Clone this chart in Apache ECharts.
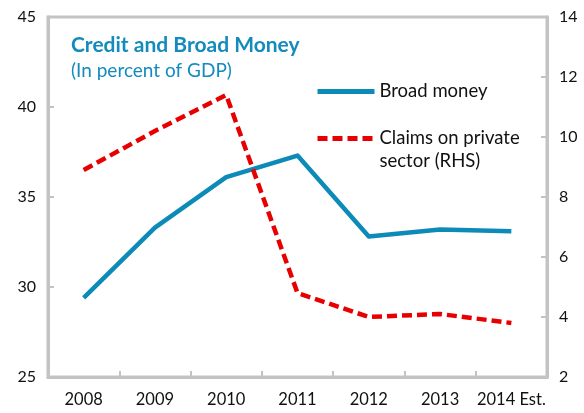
<!DOCTYPE html>
<html><head><meta charset="utf-8">
<script src="https://cdn.jsdelivr.net/npm/echarts@6/dist/echarts.min.js"></script>
<style>html,body{margin:0;padding:0;background:#fff}#c{width:584px;height:413px}</style>
</head><body><div id="c"></div>
<script>
var categories = ['2008','2009','2010','2011','2012','2013','2014 Est.'];
var broadMoney = [29.4, 33.3, 36.1, 37.3, 32.8, 33.2, 33.1];
var claimsPrivate = [8.9, 10.2, 11.4, 4.8, 4.0, 4.1, 3.8];
var leftTicks = {min: 25, max: 45, interval: 5};
var rightTicks = {min: 2, max: 14, interval: 2};
var seriesNames = ['Broad money', 'Claims on private\nsector (RHS)'];

var FONT = 'Lato';
var chart = echarts.init(document.getElementById('c'), null, {renderer: 'canvas'});
var gray = '#c3c3c3';
chart.setOption({
  animation: false,
  textStyle: {fontFamily: FONT},
  title: {
    text: 'Credit and Broad Money',
    subtext: '(In percent of GDP)',
    left: 66, top: 30, itemGap: 5,
    textStyle: {fontFamily: FONT, fontSize: 21, fontWeight: 'bold', color: '#138bbd'},
    subtextStyle: {fontFamily: FONT, fontSize: 19, color: '#138bbd'}
  },
  legend: {
    orient: 'vertical', left: 315, top: 80, padding: 0, itemWidth: 57, itemHeight: 12, itemGap: 1,
    itemStyle: {opacity: 0},
    lineStyle: {width: 5},
    textStyle: {fontFamily: FONT, fontSize: 18.5, color: '#111', lineHeight: 23},
    formatter: function (name) { return name === seriesNames[1] ? ' \n' + name : name; },
    data: seriesNames
  },
  grid: {left: 48, right: 37, top: 17, bottom: 36, show: true, borderColor: gray, borderWidth: 3},
  xAxis: {
    type: 'category', data: categories, boundaryGap: true,
    axisLine: {show: true, lineStyle: {color: gray, width: 3}},
    axisTick: {show: true, inside: true, length: 6, interval: 0, lineStyle: {color: gray, width: 2}},
    axisLabel: {fontFamily: FONT, fontSize: 16.5, color: '#111', margin: 14, interval: 0}
  },
  yAxis: [{
    type: 'value', min: leftTicks.min, max: leftTicks.max, interval: leftTicks.interval, position: 'left',
    splitLine: {show: false},
    axisLine: {show: true, lineStyle: {color: gray, width: 3}},
    axisTick: {show: true, inside: true, length: 6, lineStyle: {color: gray, width: 2}},
    axisLabel: {fontFamily: FONT, fontSize: 16, color: '#111', margin: 12}
  }, {
    type: 'value', min: rightTicks.min, max: rightTicks.max, interval: rightTicks.interval, position: 'right',
    splitLine: {show: false},
    axisLine: {show: true, lineStyle: {color: gray, width: 3}},
    axisTick: {show: true, inside: true, length: 6, lineStyle: {color: gray, width: 2}},
    axisLabel: {fontFamily: FONT, fontSize: 16, color: '#111', margin: 12}
  }],
  series: [{
    name: seriesNames[0], type: 'line', data: broadMoney, yAxisIndex: 0,
    symbol: 'none', color: '#0d8bb8',
    lineStyle: {color: '#0d8bb8', width: 4.5, join: 'round'}
  }, {
    name: seriesNames[1], type: 'line', data: claimsPrivate, yAxisIndex: 1,
    symbol: 'none', color: '#e80000',
    lineStyle: {color: '#e80000', width: 4.5, type: [10, 5], join: 'round'}
  }]
});
</script></body></html>
